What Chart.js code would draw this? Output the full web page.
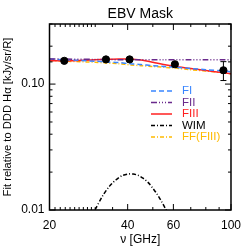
<!DOCTYPE html>
<html>
<head>
<meta charset="utf-8">
<script src="https://cdn.jsdelivr.net/npm/chart.js@4.4.0/dist/chart.umd.min.js"></script>
<style>
html, body { margin: 0; padding: 0; background: #fff; }
</style>
</head>
<body>
<canvas id="fit" width="249" height="249"></canvas>
<script>
// model curves, sampled frequencies in GHz
var modelFreq = [20, 23, 30, 33, 37, 41, 45, 50, 55, 61, 70, 80, 94, 100]
var fiVals   = [0.158, 0.156, 0.152, 0.150, 0.148, 0.145, 0.143, 0.140, 0.138, 0.136, 0.133, 0.130, 0.127, 0.125]
var fiiVals  = [0.158, 0.158, 0.157, 0.157, 0.156, 0.156, 0.156, 0.156, 0.156, 0.156, 0.156, 0.156, 0.156, 0.156]
var fiiiVals = [0.153, 0.153, 0.156, 0.157, 0.158, 0.158, 0.155, 0.149, 0.143, 0.138, 0.133, 0.128, 0.123, 0.121]
var ffVals   = [0.154, 0.152, 0.149, 0.147, 0.145, 0.142, 0.140, 0.138, 0.136, 0.134, 0.130, 0.127, 0.123, 0.121]

var wimFreq = [30, 32, 34, 36, 38, 40, 42, 44, 46, 48, 50, 52, 54, 56, 57]
var wimVals = [0.0101, 0.0129, 0.0154, 0.0173, 0.0187, 0.0193, 0.0193, 0.0188, 0.0178, 0.0165, 0.0149, 0.0133, 0.0117, 0.0102, 0.0095]

// measured points
var obsFreq = [22.8, 33, 40.7, 60.8, 93.5]
var obsVals = [0.153, 0.157, 0.157, 0.1437, 0.1287]
var obsErr  = [0.002, 0.002, 0.002, 0.005, 0.022]

var xLabelTicks = [20, 40, 60, 100]
var yLabelTicks = [0.01, 0.10]

var seriesNames = ['FI', 'FII', 'FIII', 'WIM', 'FF(FIII)']

var fontFam = '"Liberation Sans", Arial, sans-serif'

function pairs(xs, ys) {
    return xs.map((v, i) => ({x: v, y: ys[i]}))
}

function isLabelled(list, v) {
    return list.some(t => Math.abs(t - v) / t < 1e-6)
}

function curve(label, xs, ys, color, dash, order) {
    return {
        label: label,
        data: pairs(xs, ys),
        showLine: true,
        borderColor: color,
        backgroundColor: color,
        borderWidth: 1.5,
        borderDash: dash,
        pointRadius: 0,
        tension: 0.3,
        order: order
    }
}

// error bars under the points
const errorBars = {
    id: 'errorBars',
    beforeDatasetsDraw(chart) {
        const ctx = chart.ctx
        const x = chart.scales.x, y = chart.scales.y
        ctx.save()
        ctx.strokeStyle = '#000'
        ctx.lineWidth = 1
        obsFreq.forEach((f, i) => {
            const px = x.getPixelForValue(f)
            const top = y.getPixelForValue(obsVals[i] + obsErr[i])
            const bot = y.getPixelForValue(obsVals[i] - obsErr[i])
            ctx.beginPath()
            ctx.moveTo(px, top); ctx.lineTo(px, bot)
            ctx.moveTo(px - 3, top); ctx.lineTo(px + 3, top)
            ctx.moveTo(px - 3, bot); ctx.lineTo(px + 3, bot)
            ctx.stroke()
        })
        ctx.restore()
    }
}

// box round the plot with inward ticks on all four sides
const frameTicks = {
    id: 'frameTicks',
    afterDraw(chart) {
        const ctx = chart.ctx
        const a = chart.chartArea
        const x = chart.scales.x, y = chart.scales.y
        ctx.save()
        ctx.strokeStyle = '#000'
        ctx.lineWidth = 1
        ctx.beginPath()
        x.ticks.forEach(t => {
            const px = x.getPixelForValue(t.value)
            const len = isLabelled(xLabelTicks, t.value) ? 6 : 3
            ctx.moveTo(px, a.bottom); ctx.lineTo(px, a.bottom - len)
            ctx.moveTo(px, a.top); ctx.lineTo(px, a.top + len)
        })
        y.ticks.forEach(t => {
            const py = y.getPixelForValue(t.value)
            const len = isLabelled(yLabelTicks, t.value) ? 6 : 3
            ctx.moveTo(a.left, py); ctx.lineTo(a.left + len, py)
            ctx.moveTo(a.right, py); ctx.lineTo(a.right - len, py)
        })
        ctx.stroke()
        ctx.lineWidth = 1.5
        ctx.strokeRect(a.left, a.top, a.right - a.left, a.bottom - a.top)
        ctx.restore()
    }
}

// legend inside the plot, text in the series colour
const insideLegend = {
    id: 'insideLegend',
    afterDraw(chart) {
        const ctx = chart.ctx
        ctx.save()
        ctx.font = '11.5px ' + fontFam
        ctx.textBaseline = 'middle'
        let row = 0
        chart.data.datasets.forEach(ds => {
            if (!seriesNames.includes(ds.label)) return
            const yy = 91 + row * 11.5
            ctx.strokeStyle = ds.borderColor
            ctx.lineWidth = 1.5
            ctx.setLineDash(ds.borderDash || [])
            ctx.beginPath()
            ctx.moveTo(151, yy); ctx.lineTo(172, yy)
            ctx.stroke()
            ctx.setLineDash([])
            ctx.fillStyle = ds.borderColor
            ctx.fillText(ds.label, 182, yy)
            row++
        })
        ctx.restore()
    }
}

const canvas = document.getElementById('fit')
const fitChart = new Chart(canvas, {
    type: 'scatter',
    data: {
        datasets: [
            {
                label: 'data',
                data: pairs(obsFreq, obsVals),
                pointRadius: 3.6,
                backgroundColor: '#000',
                borderColor: '#000',
                order: 0
            },
            curve('FI', modelFreq, fiVals, '#3a86ff', [5, 3], 2),
            curve('FII', modelFreq, fiiVals, '#6a2a8c', [6, 2, 1, 2, 1, 2, 1, 2], 1),
            curve('FIII', modelFreq, fiiiVals, '#ff2020', [], 3),
            curve('WIM', wimFreq, wimVals, '#000', [4, 2, 1, 2], 5),
            curve('FF(FIII)', modelFreq, ffVals, '#ffbb00', [4, 2, 1, 2], 4)
        ]
    },
    options: {
        responsive: false,
        animation: false,
        layout: { padding: { top: 0, right: 13, bottom: 0, left: 0 } },
        plugins: {
            legend: { display: false },
            tooltip: { enabled: false },
            title: {
                display: true,
                text: 'EBV Mask',
                fullSize: false,
                color: '#000',
                font: { family: fontFam, size: 14, weight: 'normal' },
                padding: { top: 6, bottom: 1.2 }
            }
        },
        scales: {
            x: {
                type: 'logarithmic',
                min: 20,
                max: 100,
                grid: { display: false, drawTicks: false },
                border: { display: false },
                ticks: {
                    autoSkip: false,
                    maxRotation: 0,
                    padding: 8,
                    color: '#000',
                    font: { family: fontFam, size: 12 },
                    callback: v => isLabelled(xLabelTicks, v) ? String(v) : ''
                },
                title: {
                    display: true,
                    text: 'ν [GHz]',
                    color: '#000',
                    font: { family: fontFam, size: 12 },
                    padding: { top: 0, bottom: 2 }
                },
                afterFit: scale => { scale.height = 39 }
            },
            y: {
                type: 'logarithmic',
                min: 0.01,
                max: 0.3,
                grid: { display: false, drawTicks: false },
                border: { display: false },
                ticks: {
                    autoSkip: false,
                    padding: 5,
                    color: '#000',
                    font: { family: fontFam, size: 12 },
                    callback: v => isLabelled(yLabelTicks, v) ? v.toFixed(2) : ''
                },
                title: {
                    display: true,
                    text: 'Fit relative to DDD Hα [kJy/sr/R]',
                    color: '#000',
                    font: { family: fontFam, size: 11.2 },
                    padding: { top: 1.5, bottom: 0 }
                },
                afterFit: scale => { scale.width = 49.5 }
            }
        }
    },
    plugins: [errorBars, frameTicks, insideLegend]
})
</script>
</body>
</html>
